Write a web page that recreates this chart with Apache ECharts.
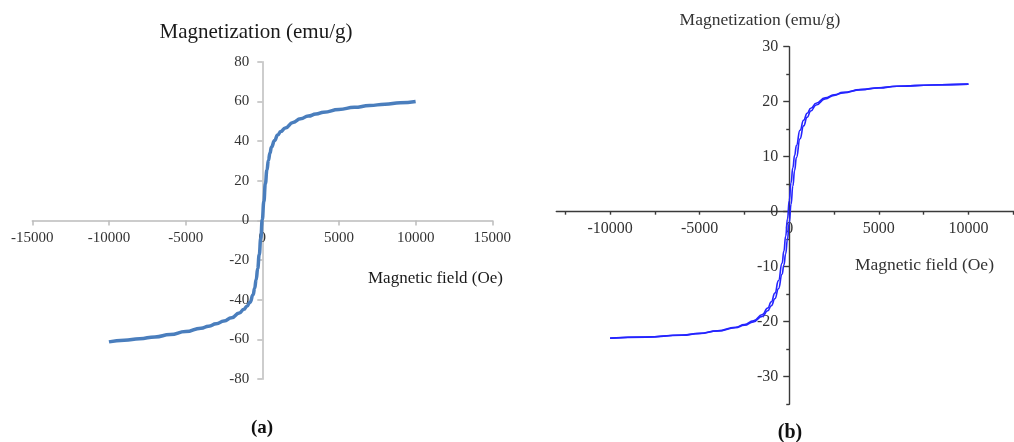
<!DOCTYPE html>
<html>
<head>
<meta charset="utf-8">
<script src="https://cdn.jsdelivr.net/npm/echarts@6/dist/echarts.min.js"></script>
<style>
html,body{margin:0;padding:0;background:#fff;}
#c{width:1014px;height:442px;}
</style>
</head>
<body>
<div id="c"></div>
<script>
// ---- Panel (a) data ----
var fieldA = [-10000,-9000,-8000,-7000,-6000,-5000,-4000,-3500,-3000,-2500,-2000,-1500,-1200,-1000,-800,-600,-500,-400,-300,-200,-100,0,100,200,300,400,500,600,800,1000,1200,1500,2000,2500,3000,3500,4000,5000,6000,7000,8000,9000,10000];
var magA = [-61.2,-60.4,-59.6,-58.7,-57.5,-56.0,-54.3,-53.3,-52.1,-50.7,-49.0,-46.6,-44.8,-43.2,-41.2,-37.5,-34.2,-29.8,-24.2,-17.3,-9.0,0.5,9.5,18.5,25.3,30.3,34.0,37.0,40.3,43.0,44.8,46.6,49.4,51.3,52.6,53.6,54.5,55.9,57.0,57.9,58.6,59.3,59.9];
var xTicksA = [-15000,-10000,-5000,0,5000,10000,15000];
var yTicksA = [-80,-60,-40,-20,0,20,40,60,80];

// ---- Panel (b) data (hysteresis loop: two branches) ----
var fieldB = [-10000,-8000,-6000,-5000,-4000,-3000,-2500,-2000,-1500,-1200,-1000,-800,-600,-400,-300,-200,-100,0,100,200,300,400,600,800,1000,1200,1500,2000,2500,3000,4000,5000,6000,8000,10000];
var magBDown = [-22.99,-22.79,-22.43,-22.12,-21.66,-21.0,-20.53,-19.83,-18.68,-17.5,-16.38,-14.8,-12.53,-9.36,-7.16,-4.46,-1.32,2.04,5.26,8.0,10.26,12.03,14.8,16.62,17.9,18.8,19.72,20.7,21.25,21.7,22.2,22.55,22.8,23.05,23.2];
var magBUp = [-23.0,-22.8,-22.45,-22.15,-21.7,-21.1,-20.65,-20.03,-19.03,-18.02,-17.1,-15.82,-14.0,-11.37,-9.74,-7.64,-5.04,-2.0,1.36,4.64,7.5,9.84,13.27,15.6,17.18,18.3,19.4,20.5,21.15,21.6,22.2,22.5,22.8,23.05,23.2];
var xLabelsB = [-10000,-5000,0,5000,10000];
var xTicksB = [-12500,-10000,-7500,-5000,-2500,0,2500,5000,7500,10000,12500];
var yLabelsB = [-30,-20,-10,0,10,20,30];
var yMinorTicksB = [-35,-25,-15,-5,5,15,25];

function zip(xs, ys){ var o=[]; for(var i=0;i<xs.length;i++){o.push([xs[i],ys[i]]);} return o; }
function plain(v){ return String(v); }

var serif = '"Liberation Serif","Times New Roman",serif';
var chart = echarts.init(document.getElementById('c'), null, {renderer:'canvas'});
var colA = '#bcbcbc', colB = '#3a3a3a';

// grid geometry
var gA = {left:32.3, top:61.7, width:460, height:317.5};
var gB = {left:556.3, top:46.7, width:465.9, height:357.5};
// offsets that put each axis through the other axis' zero
var xOffA = -(gA.height * 80 / 160);
var yOffA = -(gA.width * 15000 / 30000);
var xOffB = -(gB.height * 35 / 65);
var yOffB = -(gB.width * 13000 / 26000);

function gridOf(g){ return {left:g.left, top:g.top, width:g.width, height:g.height, outerBoundsMode:'none', containLabel:false}; }

chart.setOption({
  animation:false,
  backgroundColor:'#ffffff',
  grid:[ gridOf(gA), gridOf(gB), gridOf(gB) ],
  xAxis:[
    {gridIndex:0, type:'value', min:-15000, max:15000, interval:5000, offset:xOffA,
     axisLine:{show:true, onZero:false, lineStyle:{color:colA, width:1.5}},
     axisTick:{show:true, length:5, lineStyle:{color:colA, width:1.5}, customValues:xTicksA},
     axisLabel:{show:true, margin:10, fontSize:15, fontFamily:serif, color:'#333', customValues:xTicksA, formatter:plain},
     splitLine:{show:false}},
    {gridIndex:1, type:'value', min:-13000, max:13000, offset:xOffB,
     axisLine:{show:true, onZero:false, lineStyle:{color:colB, width:1.4}},
     axisTick:{show:true, length:3, lineStyle:{color:colB, width:1.4}, customValues:xTicksB},
     axisLabel:{show:true, margin:9, fontSize:16, fontFamily:serif, color:'#333', customValues:xLabelsB, formatter:plain},
     splitLine:{show:false}},
    {gridIndex:2, type:'value', min:-13000, max:13000, show:false}
  ],
  yAxis:[
    {gridIndex:0, type:'value', min:-80, max:80, interval:20, offset:yOffA,
     axisLine:{show:true, onZero:false, lineStyle:{color:colA, width:1.5}},
     axisTick:{show:true, length:5, lineStyle:{color:colA, width:1.5}, customValues:yTicksA},
     axisLabel:{show:true, margin:13, fontSize:15, fontFamily:serif, color:'#333', customValues:yTicksA, formatter:plain},
     splitLine:{show:false}},
    {gridIndex:1, type:'value', min:-35, max:30, offset:yOffB,
     axisLine:{show:true, onZero:false, lineStyle:{color:colB, width:1.4}},
     axisTick:{show:true, length:6, lineStyle:{color:colB, width:1.4}, customValues:yLabelsB},
     axisLabel:{show:true, margin:11, fontSize:16, fontFamily:serif, color:'#333', customValues:yLabelsB, formatter:plain},
     splitLine:{show:false}},
    {gridIndex:2, type:'value', min:-35, max:30, offset:yOffB,
     axisLine:{show:false, onZero:false},
     axisTick:{show:true, length:3, lineStyle:{color:colB, width:1.4}, customValues:yMinorTicksB},
     axisLabel:{show:false},
     splitLine:{show:false}}
  ],
  series:[
    {type:'line', xAxisIndex:0, yAxisIndex:0, data:zip(fieldA, magA), showSymbol:false,
     smooth:0.5, smoothMonotone:'x', lineStyle:{color:'#4a7ebd', width:3.5}},
    {type:'line', xAxisIndex:1, yAxisIndex:1, data:zip(fieldB, magBDown), showSymbol:false,
     smooth:0.5, smoothMonotone:'x', lineStyle:{color:'#2424ff', width:1.6}},
    {type:'line', xAxisIndex:1, yAxisIndex:1, data:zip(fieldB, magBUp), showSymbol:false,
     smooth:0.5, smoothMonotone:'x', lineStyle:{color:'#2424ff', width:1.6}}
  ],
  graphic:[
    {type:'text', x:256, y:32, style:{text:'Magnetization (emu/g)', font:'21px '+serif, fill:'#1a1a1a', textAlign:'center', textVerticalAlign:'middle'}},
    {type:'text', x:368, y:279, style:{text:'Magnetic field (Oe)', font:'17px '+serif, fill:'#1a1a1a', textAlign:'left', textVerticalAlign:'middle'}},
    {type:'text', x:262, y:428, style:{text:'(a)', font:'bold 19px '+serif, fill:'#111', textAlign:'center', textVerticalAlign:'middle'}},
    {type:'text', x:760, y:20, style:{text:'Magnetization (emu/g)', font:'17.5px '+serif, fill:'#333', textAlign:'center', textVerticalAlign:'middle'}},
    {type:'text', x:855, y:265, style:{text:'Magnetic field (Oe)', font:'17.5px '+serif, fill:'#333', textAlign:'left', textVerticalAlign:'middle'}},
    {type:'text', x:790, y:433, style:{text:'(b)', font:'bold 20px '+serif, fill:'#111', textAlign:'center', textVerticalAlign:'middle'}}
  ]
});
</script>
</body>
</html>
